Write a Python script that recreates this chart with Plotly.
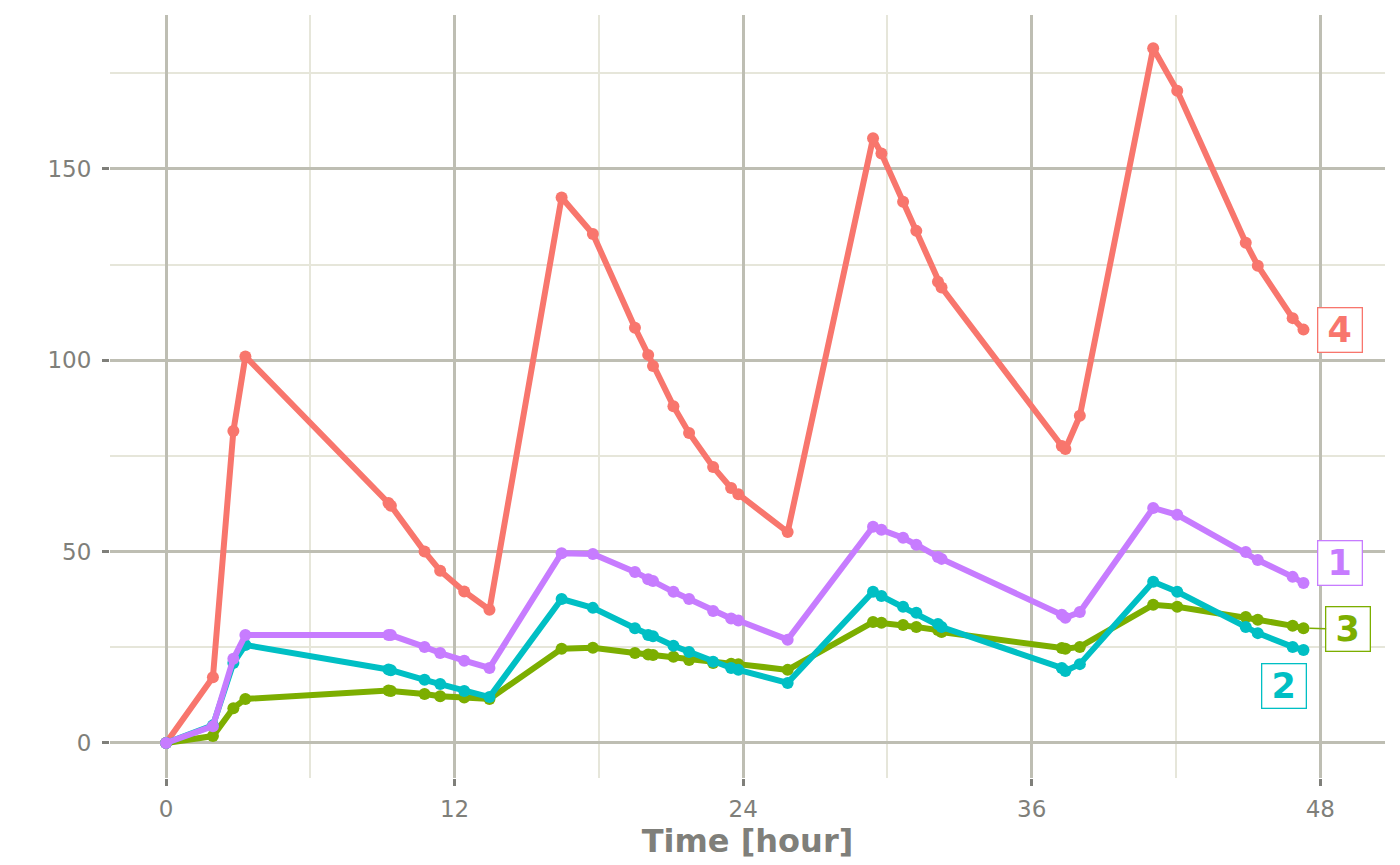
import plotly.graph_objects as go

# sampling times (hours), shared by all four subjects
time_h = [0, 1.95, 2.8, 3.3, 9.25, 9.35, 10.75, 11.4, 12.4, 13.45,
          16.45, 17.75, 19.5, 20.05, 20.25, 21.1, 21.75, 22.75, 23.5, 23.8,
          25.85, 29.4, 29.75, 30.65, 31.2, 32.1, 32.25, 37.25, 37.4, 38.0,
          41.05, 42.05, 44.9, 45.4, 46.85, 47.3]

conc_4 = [0, 17.2, 81.5, 101, 62.7, 62.0, 50, 45, 39.6, 34.8,
          142.5, 133, 108.5, 101.4, 98.5, 88, 81, 72.1, 66.6, 65,
          55.1, 158, 154, 141.4, 133.8, 120.5, 119, 77.6, 76.8, 85.5,
          181.5, 170.4, 130.7, 124.7, 111, 108]
conc_3 = [0, 1.8, 9.1, 11.5, 13.7, 13.6, 12.8, 12.2, 11.9, 11.5,
          24.6, 24.9, 23.5, 23.1, 23.0, 22.5, 21.7, 20.9, 20.7, 20.6,
          19.1, 31.6, 31.4, 30.8, 30.3, 29.5, 29.0, 24.8, 24.6, 25.1,
          36.1, 35.6, 32.9, 32.2, 30.6, 30.0]
conc_2 = [0, 4.6, 20.9, 25.6, 19.2, 19.0, 16.5, 15.4, 13.6, 12.0,
          37.6, 35.3, 30.0, 28.2, 27.9, 25.4, 23.8, 21.2, 19.6, 19.1,
          15.7, 39.5, 38.4, 35.6, 34.0, 31.1, 30.3, 19.6, 18.8, 20.6,
          42.1, 39.5, 30.3, 28.7, 25.1, 24.3]
conc_1 = [0, 4.4, 22.0, 28.2, 28.2, 28.2, 25.1, 23.5, 21.5, 19.6,
          49.6, 49.4, 44.7, 42.8, 42.3, 39.5, 37.6, 34.5, 32.5, 32.0,
          27.0, 56.5, 55.7, 53.6, 51.8, 48.6, 48.1, 33.5, 32.7, 34.2,
          61.4, 59.6, 49.9, 47.8, 43.4, 41.8]

ids = ["4", "3", "2", "1"]
series = [conc_4, conc_3, conc_2, conc_1]
x_ticks = [0, 12, 24, 36, 48]
y_ticks = [0, 50, 100, 150]

colors = {"4": "#F8766D", "3": "#7CAE00", "2": "#00BFC4", "1": "#C77CFF"}
# label placement relative to the last point (pixels): (dx, dy, with leader line)
label_off = {"4": (37, 0, False), "1": (37, 20, False),
             "3": (45, -1, True), "2": (-19, -36, False)}

fig = go.Figure()
for sid, vals in zip(ids, series):
    fig.add_trace(go.Scatter(
        x=time_h, y=vals, mode="lines+markers", name=sid,
        line=dict(color=colors[sid], width=6),
        marker=dict(color=colors[sid], size=12),
        showlegend=False, hoverinfo="skip"))

for sid, vals in zip(ids, series):
    dx, dy, leader = label_off[sid]
    ann = dict(x=time_h[-1], y=vals[-1], xref="x", yref="y", text="<b>%s</b>" % sid,
               font=dict(family="DejaVu Sans", size=35, color=colors[sid]),
               bgcolor="white", bordercolor=colors[sid], borderwidth=1.3,
               borderpad=3, width=37, height=37, align="center", valign="middle")
    if leader:
        ann.update(showarrow=True, arrowhead=0, arrowwidth=1.5, arrowcolor=colors[sid],
                   ax=dx, ay=-dy, standoff=6)
    else:
        ann.update(showarrow=False, xshift=dx, yshift=dy)
    fig.add_annotation(**ann)

grid_major = "#bebeb3"
grid_minor = "#e6e6da"
tick_font = dict(family="DejaVu Sans", size=23, color="#7f7f7a")

fig.update_xaxes(
    range=[-2.33, 50.69], tickvals=x_ticks, ticktext=[str(v) for v in x_ticks],
    showgrid=True, gridcolor=grid_major, gridwidth=2.6, zeroline=False,
    minor=dict(dtick=6, tick0=0, showgrid=True, gridcolor=grid_minor, gridwidth=2.3),
    ticks="outside", ticklen=7, tickwidth=2.5, tickcolor="#7f7f7a",
    tickfont=tick_font, ticklabelstandoff=3, showline=False,
    title=dict(text="<b>Time [hour]</b>", standoff=6,
               font=dict(family="DejaVu Sans", size=32, color="#7f7f7a")))
fig.update_yaxes(
    range=[-9.15, 190.2], tickvals=y_ticks, ticktext=[str(v) for v in y_ticks],
    showgrid=True, gridcolor=grid_major, gridwidth=2.6, zeroline=False,
    minor=dict(dtick=25, tick0=0, showgrid=True, gridcolor=grid_minor, gridwidth=2.3),
    ticks="outside", ticklen=7, tickwidth=2.5, tickcolor="#7f7f7a",
    tickfont=tick_font, ticklabelstandoff=6, showline=False)

# page body has an 8px margin, so the figure is sized to fit inside it
fig.update_layout(
    width=1392, height=857, plot_bgcolor="white", paper_bgcolor="white",
    margin=dict(l=102, r=15, t=7, b=87),
    font=dict(family="DejaVu Sans"))

fig.write_html("out.html")
